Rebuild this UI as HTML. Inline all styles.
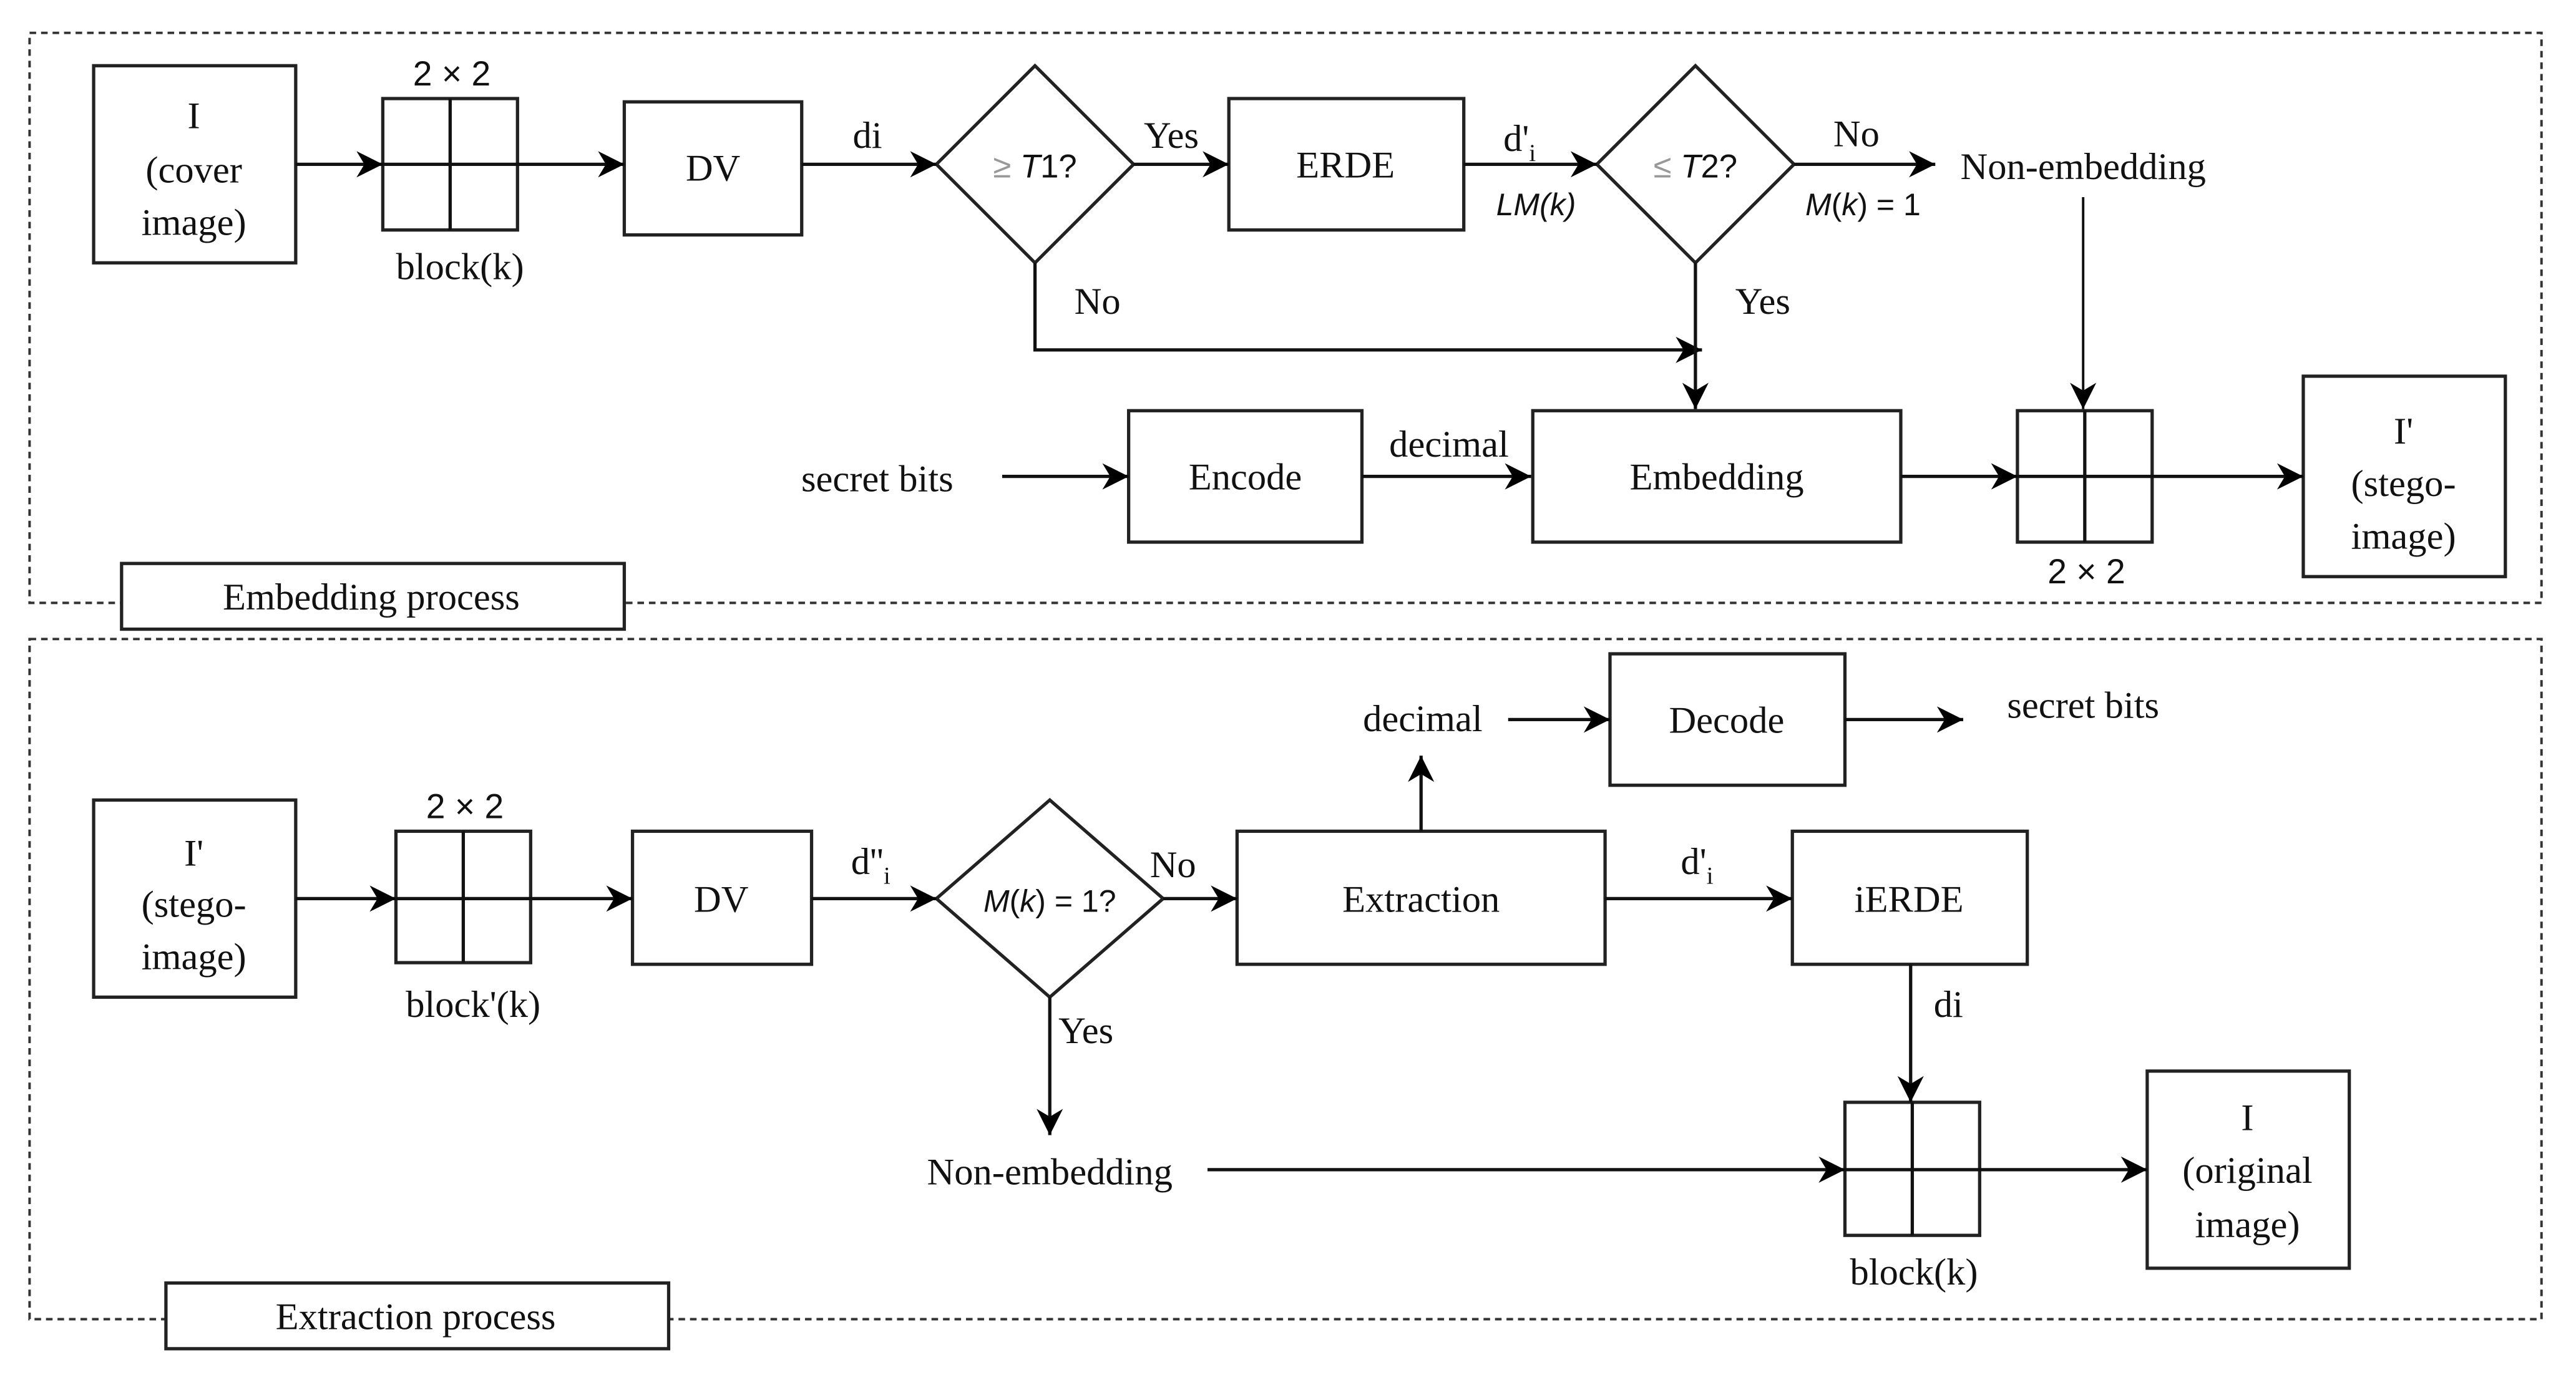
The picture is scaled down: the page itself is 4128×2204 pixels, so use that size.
<!DOCTYPE html>
<html><head><meta charset="utf-8"><style>html,body{margin:0;padding:0;background:#fff}svg{display:block}</style></head>
<body>
<svg width="4128" height="2204" viewBox="0 0 1568 837" preserveAspectRatio="none" xmlns="http://www.w3.org/2000/svg">
<defs>
<marker id="a" viewBox="0 0 10 10" refX="10" refY="5" markerWidth="7" markerHeight="7" orient="auto" markerUnits="userSpaceOnUse"><path d="M0,0 L10,5 L0,10 L3,5 z" fill="#000"/></marker>
<marker id="b" viewBox="0 0 10 10" refX="10" refY="5" markerWidth="16" markerHeight="16" orient="auto" markerUnits="userSpaceOnUse"><path d="M0,0 L10,5 L0,10 L3,5 z" fill="#000"/></marker>
</defs>
<g fill="none" stroke="#333" stroke-width="1.5" stroke-dasharray="4,3">
<rect x="18" y="20" width="1529" height="347"/>
<rect x="18" y="389" width="1529" height="414"/>
</g>
<g font-family="Liberation Serif, serif" font-size="23" fill="#111" text-anchor="middle">
<g fill="#fff" stroke="#222" stroke-width="2">
<rect x="74" y="343" width="306" height="40"/>
<rect x="101" y="781" width="306" height="40"/>
<rect x="57" y="40" width="123" height="120"/>
<rect x="233" y="60" width="82" height="80"/>
<rect x="380" y="62" width="108" height="81"/>
<rect x="748" y="60" width="143" height="80"/>
<rect x="687" y="250" width="142" height="80"/>
<rect x="933" y="250" width="224" height="80"/>
<rect x="1228" y="250" width="82" height="80"/>
<rect x="1402" y="229" width="123" height="122"/>
<rect x="57" y="487" width="123" height="120"/>
<rect x="241" y="506" width="82" height="80"/>
<rect x="385" y="506" width="109" height="81"/>
<rect x="753" y="506" width="224" height="81"/>
<rect x="980" y="398" width="143" height="80"/>
<rect x="1091" y="506" width="143" height="81"/>
<rect x="1123" y="671" width="82" height="81"/>
<rect x="1307" y="652" width="123" height="120"/>
<polygon points="630,40 690,100 630,160 570,100"/>
<polygon points="1032,40 1092,100 1032,160 972,100"/>
<polygon points="639,487 708,547 639,607 570,547"/>
</g>
<g stroke="#111" stroke-width="2" fill="none">
<line x1="274" y1="60" x2="274" y2="140"/>
<line x1="1269" y1="250" x2="1269" y2="330"/>
<line x1="282" y1="506" x2="282" y2="586"/>
<line x1="1164" y1="671" x2="1164" y2="752"/>
<line x1="180" y1="100" x2="233" y2="100" marker-end="url(#b)"/>
<line x1="233" y1="100" x2="380" y2="100" marker-end="url(#b)"/>
<line x1="488" y1="100" x2="570" y2="100" marker-end="url(#b)"/>
<line x1="690" y1="100" x2="748" y2="100" marker-end="url(#b)"/>
<line x1="891" y1="100" x2="972" y2="100" marker-end="url(#b)"/>
<line x1="1092" y1="100" x2="1178" y2="100" marker-end="url(#b)"/>
<line x1="1268" y1="120" x2="1268" y2="249" marker-end="url(#b)" stroke-width="1.5"/>
<polyline points="630,160 630,213 1036,213" marker-end="url(#b)"/>
<line x1="1032" y1="160" x2="1032" y2="249" marker-end="url(#b)"/>
<line x1="610" y1="290" x2="687" y2="290" marker-end="url(#b)"/>
<line x1="829" y1="290" x2="932" y2="290" marker-end="url(#b)"/>
<line x1="1157" y1="290" x2="1228" y2="290" marker-end="url(#b)"/>
<line x1="1228" y1="290" x2="1402" y2="290" marker-end="url(#b)"/>
<line x1="180" y1="547" x2="241" y2="547" marker-end="url(#b)"/>
<line x1="241" y1="547" x2="385" y2="547" marker-end="url(#b)"/>
<line x1="494" y1="547" x2="570" y2="547" marker-end="url(#b)"/>
<line x1="708" y1="547" x2="753" y2="547" marker-end="url(#b)"/>
<line x1="865" y1="506" x2="865" y2="460" marker-end="url(#b)"/>
<line x1="918" y1="438" x2="980" y2="438" marker-end="url(#b)"/>
<line x1="1123" y1="438" x2="1195" y2="438" marker-end="url(#b)"/>
<line x1="977" y1="547" x2="1091" y2="547" marker-end="url(#b)"/>
<line x1="1163" y1="587" x2="1163" y2="671" marker-end="url(#b)"/>
<line x1="639" y1="607" x2="639" y2="691" marker-end="url(#b)"/>
<line x1="735" y1="712" x2="1123" y2="712" marker-end="url(#b)"/>
<line x1="1123" y1="712" x2="1307" y2="712" marker-end="url(#b)"/>
</g>
<text x="226" y="371">Embedding process</text>
<text x="253" y="809">Extraction process</text>
<text x="118" y="78">I</text><text x="118" y="111">(cover</text><text x="118" y="143">image)</text>
<text x="275" y="52" font-family="Liberation Sans, sans-serif" font-size="21">2 × 2</text>
<text x="280" y="170">block(k)</text>
<text x="434" y="110">DV</text>
<text x="528" y="90">di</text>
<text x="630" y="108" font-family="Liberation Sans, sans-serif" font-size="20"><tspan fill="#999">≥</tspan> <tspan font-style="italic">T</tspan>1?</text>
<text x="713" y="90">Yes</text>
<text x="819" y="108">ERDE</text>
<text x="925" y="92">d'<tspan font-size="15" dy="6">i</tspan></text>
<text x="935" y="131" font-family="Liberation Sans, sans-serif" font-size="19" font-style="italic">LM(k)</text>
<text x="1032" y="108" font-family="Liberation Sans, sans-serif" font-size="20"><tspan fill="#999">≤</tspan> <tspan font-style="italic">T</tspan>2?</text>
<text x="1130" y="89">No</text>
<text x="1134" y="131" font-family="Liberation Sans, sans-serif" font-size="19"><tspan font-style="italic">M</tspan>(<tspan font-style="italic">k</tspan>) = 1</text>
<text x="1268" y="109">Non-embedding</text>
<text x="668" y="191">No</text>
<text x="1073" y="191">Yes</text>
<text x="534" y="299">secret bits</text>
<text x="758" y="298">Encode</text>
<text x="882" y="278">decimal</text>
<text x="1045" y="298">Embedding</text>
<text x="1270" y="355" font-family="Liberation Sans, sans-serif" font-size="21">2 × 2</text>
<text x="1463" y="270">I'</text><text x="1463" y="302">(stego-</text><text x="1463" y="334">image)</text>
<text x="118" y="527">I'</text><text x="118" y="558">(stego-</text><text x="118" y="590">image)</text>
<text x="283" y="498" font-family="Liberation Sans, sans-serif" font-size="21">2 × 2</text>
<text x="288" y="619">block'(k)</text>
<text x="439" y="555">DV</text>
<text x="530" y="532">d''<tspan font-size="15" dy="6">i</tspan></text>
<text x="639" y="555" font-family="Liberation Sans, sans-serif" font-size="19"><tspan font-style="italic">M</tspan>(<tspan font-style="italic">k</tspan>) = 1?</text>
<text x="714" y="534">No</text>
<text x="865" y="555">Extraction</text>
<text x="866" y="445">decimal</text>
<text x="1051" y="446">Decode</text>
<text x="1268" y="437">secret bits</text>
<text x="1033" y="532">d'<tspan font-size="15" dy="6">i</tspan></text>
<text x="1162" y="555">iERDE</text>
<text x="1186" y="619">di</text>
<text x="661" y="635">Yes</text>
<text x="639" y="721">Non-embedding</text>
<text x="1165" y="782">block(k)</text>
<text x="1368" y="688">I</text><text x="1368" y="720">(original</text><text x="1368" y="753">image)</text>
</g>
</svg>
</body></html>
